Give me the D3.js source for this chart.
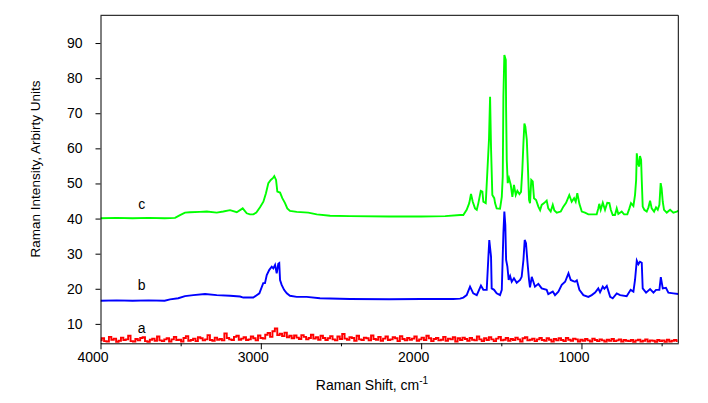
<!DOCTYPE html>
<html>
<head>
<meta charset="utf-8">
<script src="https://cdn.jsdelivr.net/npm/d3@7"></script>
<style>
body { margin: 0; background: #fff; }
svg { display: block; font-family: 'Liberation Sans', Arial, sans-serif; }
</style>
</head>
<body>
<svg></svg>
<script>
// Raman spectra, [shift cm-1, intensity]
let seriesA = [
    [4000,5.3],[3985,5.9],[3970,5.1],[3955,5.0],[3940,6.3],[3925,5.5],[3910,5.8],[3895,4.9],[3880,5.2],[3865,6.1],
    [3850,5.4],[3835,5.6],[3820,6.6],[3805,5.1],[3790,5.0],[3775,5.7],[3760,5.3],[3745,6.0],[3730,6.2],[3715,5.1],
    [3700,4.9],[3685,5.5],[3670,5.8],[3655,5.2],[3640,6.4],[3625,5.3],[3610,5.1],[3595,5.6],[3580,5.9],[3565,5.0],
    [3550,5.6],[3535,6.3],[3520,5.4],[3505,5.5],[3490,5.0],[3475,6.0],[3460,6.5],[3445,5.2],[3430,5.4],[3415,5.8],
    [3400,5.1],[3385,6.2],[3370,5.9],[3355,5.3],[3340,5.6],[3325,6.8],[3310,5.4],[3295,5.2],[3280,6.1],[3265,5.5],
    [3250,5.7],[3235,5.3],[3220,7.3],[3205,6.0],[3190,5.6],[3175,5.4],[3160,6.3],[3145,6.6],[3130,5.5],[3115,5.8],
    [3100,6.2],[3085,5.4],[3070,5.6],[3055,6.4],[3040,5.9],[3025,5.3],[3010,6.7],[2995,6.0],[2980,5.8],[2965,6.9],
    [2950,7.4],[2935,6.3],[2920,7.9],[2905,8.7],[2890,6.8],[2875,7.2],[2860,6.5],[2845,7.5],[2830,6.2],[2815,6.6],
    [2800,5.9],[2785,6.7],[2770,6.1],[2755,5.7],[2740,6.8],[2725,6.3],[2710,5.6],[2695,6.0],[2680,6.9],[2665,5.8],
    [2650,6.2],[2635,5.5],[2620,6.6],[2605,6.0],[2590,5.4],[2575,5.9],[2560,6.5],[2545,5.6],[2530,5.3],[2515,6.4],
    [2500,5.7],[2485,7.1],[2470,5.8],[2455,5.5],[2440,6.2],[2425,6.0],[2410,5.2],[2395,6.6],[2380,5.6],[2365,5.4],
    [2350,6.1],[2335,5.9],[2320,5.3],[2305,6.7],[2290,5.7],[2275,5.5],[2260,6.3],[2245,5.2],[2230,5.8],[2215,6.4],
    [2200,5.4],[2185,5.6],[2170,6.2],[2155,5.9],[2140,5.1],[2125,6.5],[2110,5.7],[2095,5.3],[2080,6.0],[2065,5.5],
    [2050,5.8],[2035,6.4],[2020,5.2],[2005,5.6],[1990,6.1],[1975,5.4],[1960,6.6],[1945,5.9],[1930,5.1],[1915,5.7],
    [1900,6.0],[1885,5.3],[1870,5.5],[1855,6.3],[1840,5.2],[1825,5.8],[1810,5.6],[1795,6.2],[1780,5.0],[1765,5.9],
    [1750,5.4],[1735,6.1],[1720,5.7],[1705,5.2],[1690,6.0],[1675,5.5],[1660,5.3],[1645,6.4],[1630,5.6],[1615,5.1],
    [1600,5.9],[1585,5.4],[1570,6.2],[1555,5.6],[1540,5.1],[1525,5.8],[1510,6.3],[1495,5.3],[1480,5.5],[1465,6.0],
    [1450,5.2],[1435,5.7],[1420,5.4],[1405,6.1],[1390,5.6],[1375,5.0],[1360,5.9],[1345,6.2],[1330,5.3],[1315,5.5],
    [1300,5.8],[1285,5.1],[1270,5.6],[1255,6.0],[1240,5.4],[1225,5.2],[1210,5.9],[1195,5.5],[1180,5.0],[1165,5.7],
    [1150,5.3],[1135,5.9],[1120,5.4],[1105,5.1],[1090,6.0],[1075,5.5],[1060,5.2],[1045,5.8],[1030,5.6],[1015,5.0],
    [1000,5.5],[985,5.2],[970,5.7],[955,5.3],[940,5.0],[925,5.8],[910,5.4],[895,5.1],[880,5.6],[865,5.3],
    [850,5.0],[835,5.5],[820,5.2],[805,5.7],[790,5.1],[775,5.3],[760,5.6],[745,5.0],[730,5.4],[715,5.2],
    [700,5.1],[685,5.4],[670,4.9],[655,5.3],[640,5.5],[625,5.0],[610,5.2],[595,5.6],[580,5.0],[565,5.3],
    [550,5.2],[535,4.9],[520,5.4],[505,5.1],[490,5.3],[475,4.9],[460,5.5],[445,5.0],[430,5.2],[415,5.4],
    [400,5.1]
]

let seriesB = [
    [4000,16.6],[3900,16.7],[3800,16.6],[3700,16.7],[3600,16.6],[3566,17.0],[3515,17.3],[3473,17.9],[3421,18.2],
    [3348,18.5],[3275,18.2],[3192,18.0],[3130,17.8],[3109,17.5],[3047,17.5],[3009,18.7],[2985,21.6],[2974,21.6],
    [2963,23.9],[2947,25.4],[2932,26.3],[2922,25.8],[2911,26.8],[2901,24.4],[2891,27.1],[2885,27.3],[2880,22.5],
    [2870,21.1],[2855,19.7],[2838,18.7],[2818,18.0],[2776,17.7],[2714,17.7],[2631,17.3],[2444,17.1],[2200,17.0],
    [2000,17.1],[1800,17.1],[1757,17.2],[1737,17.5],[1716,18.2],[1695,20.6],[1675,18.7],[1653,18.2],[1627,20.9],
    [1612,19.7],[1591,19.7],[1581,28.7],[1575,33.9],[1564,29.1],[1560,20.1],[1545,19.7],[1529,18.7],[1508,18.2],
    [1497,19.7],[1487,35.8],[1481,42.0],[1475,38.2],[1470,28.2],[1462,26.3],[1454,22.5],[1445,23.6],[1435,22.0],
    [1421,23.0],[1404,21.7],[1383,22.5],[1373,23.4],[1362,28.2],[1354,33.9],[1346,33.0],[1337,27.7],[1327,22.5],
    [1321,20.4],[1310,23.4],[1300,22.0],[1290,20.6],[1269,21.4],[1248,20.1],[1217,19.7],[1207,18.5],[1179,19.2],
    [1165,18.2],[1144,19.2],[1123,21.1],[1102,22.0],[1081,24.4],[1067,22.5],[1051,22.2],[1040,22.0],[1029,22.4],
    [1013,19.7],[988,18.2],[957,17.7],[936,18.2],[915,18.9],[895,20.1],[884,19.0],[867,20.6],[857,20.0],
    [842,20.8],[821,17.7],[805,17.3],[780,18.7],[759,18.2],[718,17.9],[693,19.7],[676,19.2],[666,22.5],
    [655,28.0],[645,27.0],[635,27.7],[624,27.4],[618,20.1],[597,18.9],[572,19.9],[551,18.9],[535,19.7],
    [514,19.7],[505,23.3],[493,20.1],[473,20.3],[458,18.9],[427,18.7],[396,18.5]
]

let seriesC = [
    [4000,40.1],[3900,40.2],[3800,40.1],[3700,40.2],[3600,40.1],[3535,40.2],[3504,41.0],[3473,41.7],[3442,41.8],
    [3380,41.9],[3337,42.0],[3275,41.7],[3234,42.0],[3192,42.4],[3150,41.8],[3113,42.9],[3088,41.5],[3068,41.2],
    [3047,41.2],[3028,41.7],[3005,43.2],[2984,44.8],[2968,47.2],[2953,50.1],[2938,51.0],[2925,51.5],[2916,52.1],
    [2905,51.0],[2897,47.7],[2880,47.4],[2866,45.8],[2849,44.4],[2835,42.9],[2818,42.2],[2776,41.9],[2704,41.7],
    [2651,41.2],[2568,40.8],[2444,40.7],[2200,40.6],[2000,40.6],[1850,40.7],[1757,41.0],[1737,41.0],[1716,42.5],
    [1700,44.4],[1689,47.0],[1678,44.8],[1664,42.9],[1653,42.5],[1643,44.4],[1628,47.9],[1618,47.7],[1612,44.8],
    [1597,44.4],[1587,53.4],[1577,62.4],[1570,74.7],[1564,60.0],[1556,46.7],[1544,45.8],[1539,44.4],[1529,42.9],
    [1508,42.8],[1497,46.2],[1491,51.9],[1487,74.7],[1481,86.6],[1472,85.2],[1470,70.9],[1466,56.7],[1460,50.1],
    [1452,51.5],[1441,49.6],[1431,46.2],[1421,49.6],[1410,46.7],[1400,47.9],[1387,47.0],[1377,47.6],[1369,53.8],
    [1362,61.5],[1356,67.1],[1350,66.2],[1341,62.4],[1335,55.8],[1327,45.3],[1321,44.4],[1313,51.0],[1304,50.6],
    [1296,45.8],[1283,45.3],[1269,43.4],[1258,42.4],[1248,43.9],[1233,44.4],[1217,45.1],[1207,42.9],[1192,42.0],
    [1179,43.9],[1169,42.3],[1154,41.7],[1129,42.0],[1113,43.4],[1096,44.5],[1076,46.7],[1061,44.8],[1046,45.8],
    [1036,44.8],[1026,47.2],[1013,44.2],[998,42.0],[978,41.7],[957,41.2],[905,41.2],[895,42.9],[889,44.2],
    [880,42.5],[867,44.5],[853,42.5],[839,44.5],[826,44.4],[817,42.5],[805,41.0],[791,41.0],[780,42.9],
    [770,41.3],[749,42.0],[734,41.2],[714,41.2],[701,42.9],[691,44.4],[676,43.6],[666,46.7],[659,51.0],
    [655,58.6],[649,56.2],[641,54.8],[635,57.8],[628,56.7],[624,51.0],[618,43.4],[608,42.5],[593,42.0],
    [582,43.2],[572,45.1],[562,42.9],[547,42.0],[535,43.2],[524,42.5],[514,43.9],[506,50.1],[500,48.6],
    [493,44.8],[485,42.5],[468,41.7],[447,42.5],[427,41.7],[406,42.0],[396,42.2]
]

let seriesNames = ['a', 'b', 'c']
let xTicks = [4000, 3000, 2000, 1000]
let xMinorTicks = [3500, 2500, 1500, 500]
let yTicks = [10, 20, 30, 40, 50, 60, 70, 80, 90]

let width = 708
let height = 403
let plotLeft = 100.5
let plotRight = 678.3
let plotTop = 15.3
let plotBottom = 343.3

let colors = ['#ff0000', '#0000ff', '#00ff00']
// the noisy trace a is drawn stepwise, like the instrument's bitmap
let curves = [d3.curveStep, d3.curveLinear, d3.curveLinear]
// where the letters a, b, c sit (data units)
let labelSpots = [[3743, 7.4], [3743, 19.7], [3743, 42.7]]

let svg = d3.select('svg')
    .attr('width', width)
    .attr('height', height)

let xScale = d3.scaleLinear().domain([4000, 396]).range([plotLeft, plotRight])
let yScale = d3.scaleLinear().domain([4.47, 97.9]).range([plotBottom, plotTop])

svg.append('clipPath')
    .attr('id', 'plot')
    .append('rect')
    .attr('x', plotLeft)
    .attr('y', plotTop)
    .attr('width', plotRight - plotLeft)
    .attr('height', plotBottom - plotTop)

let allSeries = [seriesA, seriesB, seriesC]

allSeries.forEach((s, i) => {
    let line = d3.line()
        .curve(curves[i])
        .x((d) => xScale(d[0]))
        .y((d) => yScale(d[1]))

    svg.append('path')
        .datum(s)
        .attr('clip-path', 'url(#plot)')
        .attr('fill', 'none')
        .attr('stroke', colors[i])
        .attr('stroke-width', 1.9)
        .attr('d', line)

    svg.append('text')
        .attr('x', xScale(labelSpots[i][0]))
        .attr('y', yScale(labelSpots[i][1]))
        .attr('text-anchor', 'middle')
        .attr('font-size', 14)
        .text(seriesNames[i])
})

// frame: top and right edges
svg.append('path')
    .attr('d', 'M' + plotLeft + ',' + plotTop + 'H' + plotRight + 'V' + plotBottom)
    .attr('fill', 'none')
    .attr('stroke', '#000')

let xAxis = d3.axisBottom(xScale).tickValues(xTicks).tickFormat(d3.format('d'))
    .tickSize(6).tickSizeOuter(0).tickPadding(3)
let xMinor = d3.axisBottom(xScale).tickValues(xMinorTicks).tickSize(3).tickFormat('')
let yAxis = d3.axisLeft(yScale).tickValues(yTicks).tickSize(5).tickSizeOuter(0).tickPadding(13)

svg.append('g')
    .attr('transform', 'translate(0,' + plotBottom + ')')
    .call(xMinor)
    .call((g) => g.select('.domain').remove())

let gx = svg.append('g')
    .attr('transform', 'translate(0,' + plotBottom + ')')
    .call(xAxis)

gx.selectAll('text').attr('dx', -8)

let gy = svg.append('g')
    .attr('transform', 'translate(' + plotLeft + ',0)')
    .call(yAxis)

svg.selectAll('.tick line').attr('stroke', '#000')
svg.selectAll('.domain').attr('stroke', '#000')
svg.selectAll('.tick text')
    .attr('fill', '#000')
    .attr('font-size', 14)
    .attr('font-family', "'Liberation Sans', Arial, sans-serif")

svg.append('text')
    .attr('transform', 'translate(36,169) rotate(-90)')
    .attr('text-anchor', 'middle')
    .attr('dominant-baseline', 'middle')
    .attr('font-size', 13.5)
    .text('Raman Intensity, Arbirty Units')

let xTitle = svg.append('text')
    .attr('x', 372)
    .attr('y', 390)
    .attr('text-anchor', 'middle')
    .attr('font-size', 14)

xTitle.append('tspan').text('Raman Shift, cm')
xTitle.append('tspan')
    .attr('font-size', 10)
    .attr('dy', -6)
    .text('-1')
</script>
</body>
</html>
